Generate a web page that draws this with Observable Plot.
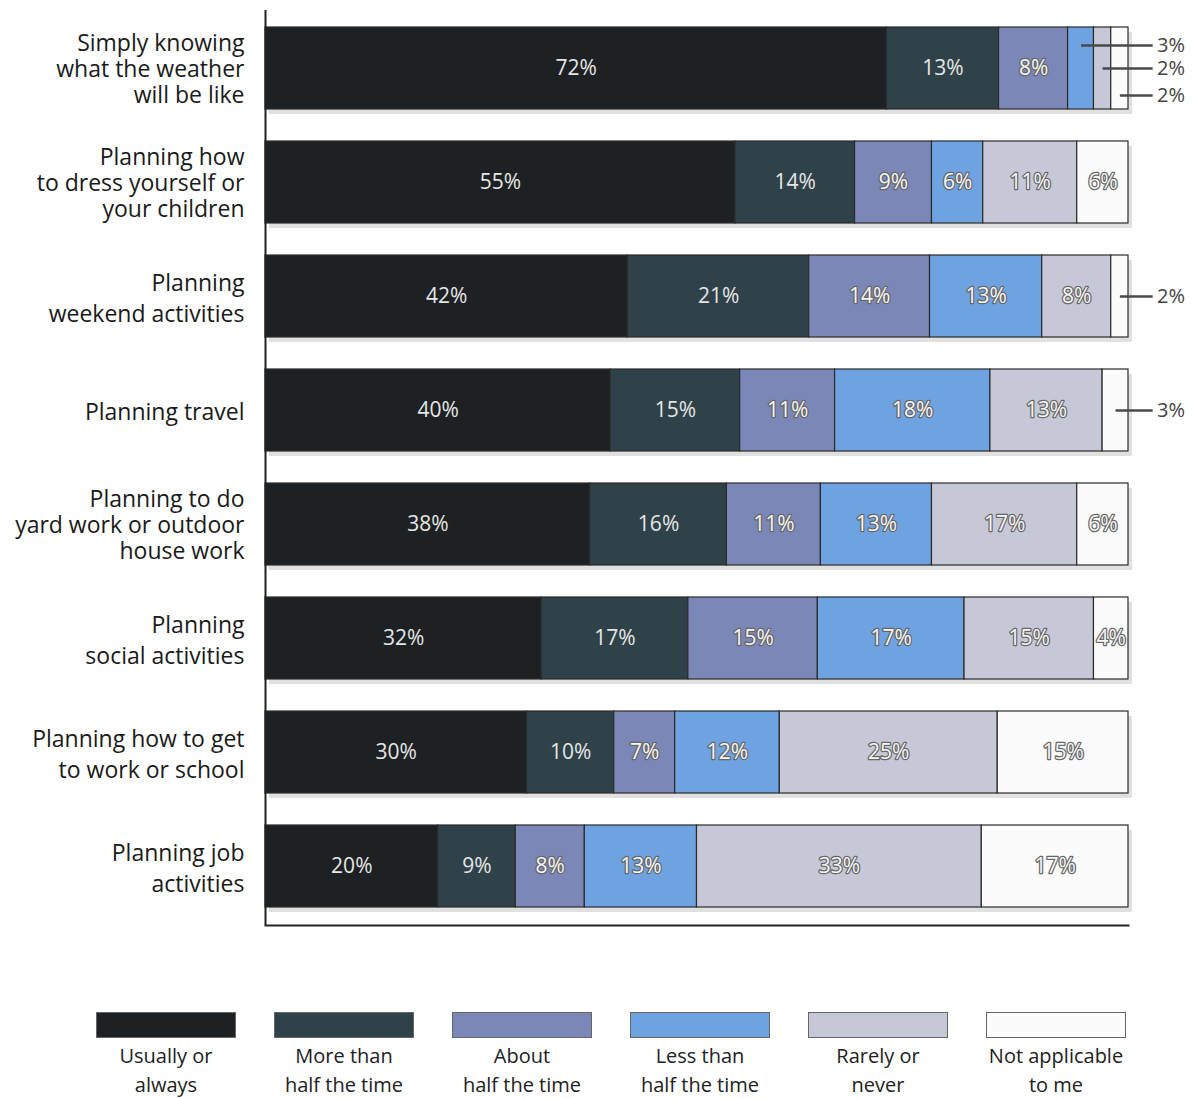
<!DOCTYPE html>
<html>
<head>
<meta charset="utf-8">
<script src="https://cdn.jsdelivr.net/npm/d3@7"></script>
<script src="https://cdn.jsdelivr.net/npm/@observablehq/plot@0.6"></script>
<style>
  body { margin: 0; background: #ffffff; font-family: "Open Sans", sans-serif; }
  #chart { width: 1193px; }
  .legend { position: relative; height: 159px; width: 1193px; }
  .item { position: absolute; top: 72px; width: 178px; text-align: center; color: #222; font-size: 20px; line-height: 29px; }
  .sw { width: 140px; height: 26px; margin: 0 auto 3px auto; border: 1px solid #666; box-sizing: border-box; }
</style>
</head>
<body>
<div id="chart"></div>
<script>
const categories = [
  "Simply knowing\nwhat the weather\nwill be like",
  "Planning how\nto dress yourself or\nyour children",
  "Planning\nweekend activities",
  "Planning travel",
  "Planning to do\nyard work or outdoor\nhouse work",
  "Planning\nsocial activities",
  "Planning how to get\nto work or school",
  "Planning job\nactivities"
];
const series = ["Usually or\nalways", "More than\nhalf the time", "About\nhalf the time", "Less than\nhalf the time", "Rarely or\nnever", "Not applicable\nto me"];
const colors = ["#1d2123", "#2f424a", "#7b87b6", "#6ea2e0", "#c6c8d7", "#fbfbfb"];

const usually      = [72, 55, 42, 40, 38, 32, 30, 20];
const moreThanHalf = [13, 14, 21, 15, 16, 17, 10, 9];
const aboutHalf    = [8, 9, 14, 11, 11, 15, 7, 8];
const lessThanHalf = [3, 6, 13, 18, 13, 17, 12, 13];
const rarely       = [2, 11, 8, 13, 17, 15, 25, 33];
const notApplicable= [2, 6, 2, 3, 6, 4, 15, 17];

// labels drawn outside the bar (category index, series index)
const outside = [[0, 3], [0, 4], [0, 5], [2, 5], [3, 5]];
const outsideDy = [-23, 0, 27, 0, 0];

const values = [usually, moreThanHalf, aboutHalf, lessThanHalf, rarely, notApplicable];
const segs = [];
categories.forEach((c, i) => {
  const total = d3.sum(values, v => v[i]);
  let acc = 0;
  values.forEach((v, s) => {
    const x1 = acc / total * 100;
    acc += v[i];
    const x2 = acc / total * 100;
    segs.push({cat: c, ci: i, s, series: series[s], value: v[i], x1, x2, mid: (x1 + x2) / 2,
      out: outside.some(([a, b]) => a === i && b === s)});
  });
});
const inside = segs.filter(d => !d.out);
const insideDark = inside.filter(d => d.s < 2);
const insideLight = inside.filter(d => d.s >= 2);

const calloutMarks = outside.flatMap(([ci, s], k) => {
  const d = segs.find(e => e.ci === ci && e.s === s);
  return [
    Plot.link([d], {x1: "mid", x2: () => 102.8, y1: "cat", y2: "cat", stroke: "#4a4a4a", strokeWidth: 2.5, dy: outsideDy[k]}),
    Plot.text([d], {x: () => 103.3, y: "cat", text: e => e.value + "%", textAnchor: "start", fill: "#444", fontSize: 20, dy: outsideDy[k]})
  ];
});

const threeLine = categories.filter(c => c.split("\n").length === 3);
const otherLine = categories.filter(c => c.split("\n").length !== 3);

const chart = Plot.plot({
  width: 1193,
  height: 940,
  marginLeft: 265,
  marginRight: 65,
  marginTop: 10,
  marginBottom: 15,
  style: {fontFamily: "Open Sans, sans-serif", background: "transparent"},
  x: {domain: [0, 100], axis: null},
  y: {domain: categories, axis: null, paddingInner: 0.28, paddingOuter: 0.15},
  color: {domain: series, range: colors},
  marks: [
    Plot.barX(categories, {x1: 0, x2: 100, y: d => d, fill: "#bbb", fillOpacity: 0.45, dx: 4, dy: 5}),
    Plot.barX(segs, {x1: "x1", x2: "x2", y: "cat", fill: "series", stroke: "#2b2b2b", strokeWidth: 1.2}),
    Plot.text(insideDark, {x: "mid", y: "cat", text: d => d.value + "%", fill: "#e6e6e6", fontSize: 21}),
    Plot.text(insideLight, {x: "mid", y: "cat", text: d => d.value + "%", fill: "#f6f6f6", stroke: "#666", strokeWidth: 2.5, fontSize: 21}),
    ...calloutMarks,
    Plot.text(threeLine, {y: d => d, text: d => d, frameAnchor: "left", textAnchor: "end", dx: -21, fontSize: 23, lineHeight: 1.13, fill: "#1a1a1a"}),
    Plot.text(otherLine, {y: d => d, text: d => d, frameAnchor: "left", textAnchor: "end", dx: -21, fontSize: 23, lineHeight: 1.35, fill: "#1a1a1a"}),
    Plot.ruleX([0], {stroke: "#222", strokeWidth: 2}),
    Plot.frame({anchor: "bottom", stroke: "#222", strokeWidth: 2})
  ]
});
document.getElementById("chart").appendChild(chart);

const legend = document.createElement("div");
legend.className = "legend";
series.forEach((s, i) => {
  const it = document.createElement("div");
  it.className = "item";
  it.style.left = (77 + i * 178) + "px";
  const sw = document.createElement("div");
  sw.className = "sw";
  sw.style.background = colors[i];
  it.appendChild(sw);
  s.split("\n").forEach(line => {
    const l = document.createElement("div");
    l.textContent = line;
    it.appendChild(l);
  });
  legend.appendChild(it);
});
document.body.appendChild(legend);
</script>
</body>
</html>
